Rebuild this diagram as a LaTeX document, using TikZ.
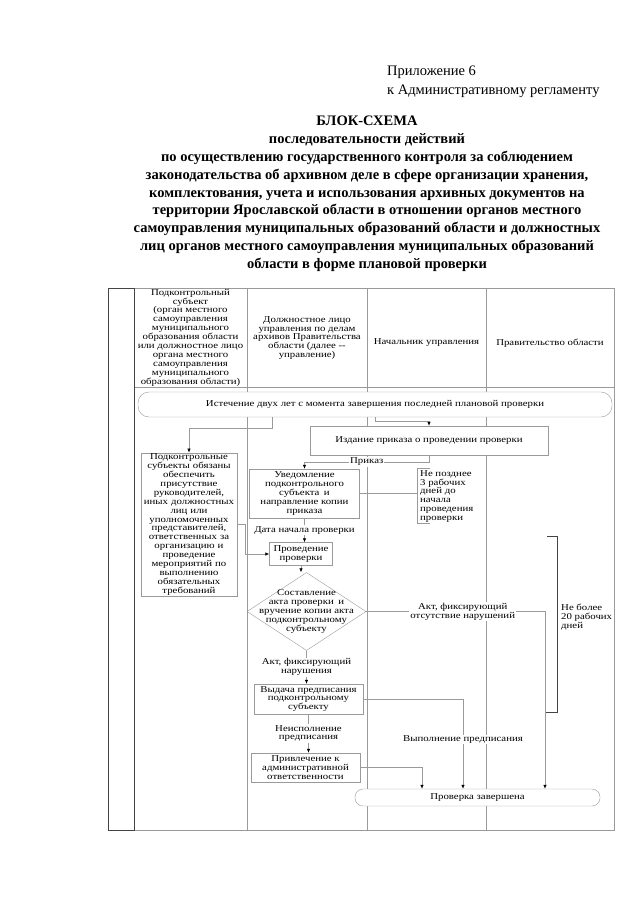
\documentclass[tikz,border=0pt]{standalone}
\usepackage{fontspec}
\setmainfont{Liberation Serif}
\newfontfamily\diagfont[FakeStretch=1.2]{Liberation Serif}
\usetikzlibrary{arrows.meta,shapes.geometric}

\newcommand{\diagtext}{\diagfont\fontsize{9}{8.9}\selectfont}

\begin{document}
\begin{tikzpicture}[x=1pt, y=-1pt,
    lane/.style={draw=lineColour, line width=0.6pt},
    edge/.style={draw=edgeColour, line width=0.8pt},
    box/.style={draw=lineColour, fill=white, align=center, inner sep=1pt, font=\diagtext},
    term/.style={box, rounded corners=11pt},
    decision/.style={draw=lineColour, fill=white, diamond, inner sep=0pt},
    txt/.style={align=center, inner sep=0pt, font=\diagtext},
    lbl/.style={fill=white, align=center, inner sep=1pt, font=\diagtext},
    line/.style={draw=lineColour, line width=0.6pt},
    arr/.style={line, -{Latex[length=4pt, width=3.4pt, color=black]}}]

    % Define colours
    \definecolor{lineColour}{HTML}{9A9A9A}
    \definecolor{edgeColour}{HTML}{444444}

    % Define frame limits
    \def\frameTop{288}
    \def\frameBot{830}
    \def\headBot{387}

    \useasboundingbox (0,0) rectangle (640,905);

    % Draw title
    \node[anchor=base west, align=left, inner sep=0pt, font=\fontsize{14.5}{19}\selectfont] (annex) at (387,94)
        {Приложение 6\\к Административному регламенту};
    \node[anchor=north, align=center, inner sep=0pt, font=\bfseries\fontsize{14.5}{17.8}\selectfont] (title) at (367,116)
        {БЛОК-СХЕМА\\последовательности действий\\по осуществлению государственного контроля за соблюдением\\законодательства об архивном деле в сфере организации хранения,\\комплектования, учета и использования архивных документов на\\территории Ярославской области в отношении органов местного\\самоуправления муниципальных образований области и должностных\\лиц органов местного самоуправления муниципальных образований\\области в форме плановой проверки};

    % Draw swimlanes
    \draw[lane] (134,\frameTop) rectangle (614,\frameBot);
    \foreach \x in {247,367,486}
        \draw[lane] (\x,\frameTop) -- (\x,\frameBot);
    \draw[lane] (134,\headBot) -- (614,\headBot);
    \draw[edge] (108,\frameTop) rectangle (134,\frameBot);

    % Lane headers
    \node[txt] (subject) at (190.5,337.5) {Подконтрольный\\субъект\\(орган местного\\самоуправления\\муниципального\\образования области\\или должностное лицо\\органа местного\\самоуправления\\муниципального\\образования области)};
    \node[txt] (officer) at (307,338) {Должностное лицо\\управления по делам\\архивов Правительства\\области (далее --\\управление)};
    \node[txt] (head) at (426.5,343) {Начальник управления};
    \node[txt] (gov) at (550,343) {Правительство области};

    % Process nodes
    \node[term, minimum width=474pt, minimum height=25pt] (start) at (375,404.5) {Истечение двух лет с момента завершения последней плановой проверки};
    \node[box, minimum width=238pt, minimum height=29pt] (order) at (429,440.5) {Издание приказа о проведении проверки};
    \node[box, text width=94pt, minimum height=143pt] (duty) at (189,524.5) {Подконтрольные\\субъекты обязаны\\обеспечить\\присутствие\\руководителей,\\иных должностных\\лиц или\\уполномоченных\\представителей,\\ответственных за\\организацию и\\проведение\\мероприятий по\\выполнению\\обязательных\\требований};
    \node[box, minimum width=110pt, minimum height=49pt] (notify) at (304.5,493.5) {Уведомление\\подконтрольного\\субъекта\enspace и\\направление копии\\приказа};
    \node[box, minimum width=63pt, minimum height=23pt] (inspect) at (301,554) {Проведение\\проверки};
    \node[decision, minimum width=119pt, minimum height=78pt] (act) at (306.5,611.5) {};
    \node[txt] (acttext) at (act) {Составление\\акта проверки\enspace и\\вручение копии акта\\подконтрольному\\субъекту};
    \node[box, minimum width=109pt, minimum height=30pt] (prescribe) at (308.5,699) {Выдача предписания\\подконтрольному\\субъекту};
    \node[box, minimum width=109pt, minimum height=29pt] (penalty) at (305.5,767.5) {Привлечение к\\административной\\ответственности};
    \node[term, rounded corners=8pt, minimum width=245pt, minimum height=17pt] (finish) at (477.5,797.5) {Проверка завершена};

    % Term brackets
    \coordinate (brkA) at (417,468);
    \coordinate (brkB) at (417,523);
    \draw[line] (430,468) -- (brkA) -- (brkB) -- (430,523);
    \node[txt, anchor=north west, align=left] (notlater) at (420,470) {Не позднее\\3 рабочих\\дней до\\начала\\проведения\\проверки};
    \draw[edge] (547,536) -- (557,536) -- (557,712) -- (545,712);
    \node[txt, anchor=west, align=left] (maxdays) at (561,617.5) {Не более\\20 рабочих\\дней};

    % Draw connectors
    \coordinate (bendA) at (272,428);
    \draw[arr] (start.south -| bendA) -- (bendA) -| (duty.north);
    \coordinate (bendB) at (375,421);
    \draw[arr] (start.south -| bendB) -- (bendB) -| (order.north);
    \coordinate (bendC) at (429,462);
    \draw[arr] (order.south) -- (bendC) -| node[lbl, pos=0.25] {Приказ} (notify.north);
    \draw[line] (notify.east) -- (notify.east -| brkA);
    \draw[arr] (notify.south) -- node[lbl] {Дата начала проверки} (notify.south |- inspect.north);
    \draw[arr] (duty.east) -- (duty.east -| 245,0) |- (inspect.west);
    \draw[arr] (inspect.south) -- (inspect.south |- act.north);
    \coordinate (bendE) at (545,611.5);
    \draw[arr] (act.east) -- node[lbl, pos=0.54] {Акт, фиксирующий\\отсутствие нарушений} (bendE) -- (bendE |- finish.north);
    \draw[arr] (act.south) -- node[lbl] {Акт, фиксирующий\\нарушения} (act.south |- prescribe.north);
    \coordinate (bendF) at (463,699);
    \draw[arr] (prescribe.east) -- (bendF) -- node[lbl, pos=0.45] {Выполнение предписания} (bendF |- finish.north);
    \draw[arr] (prescribe.south) -- node[lbl] {Неисполнение\\предписания} (prescribe.south |- penalty.north);
    \coordinate (bendG) at (422,767.5);
    \draw[arr] (penalty.east) -- (bendG) -- (bendG |- finish.north);

\end{tikzpicture}
\end{document}
